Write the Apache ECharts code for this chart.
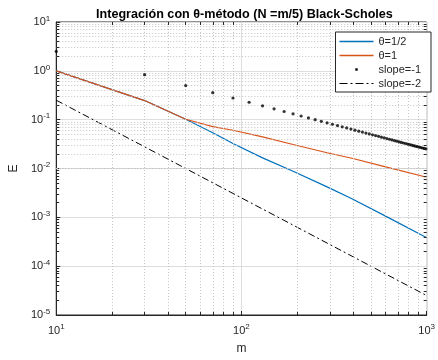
<!DOCTYPE html>
<html>
<head>
<meta charset="utf-8">
<script src="https://cdn.jsdelivr.net/npm/echarts@6/dist/echarts.min.js"></script>
<style>
html,body{margin:0;padding:0;background:#fff;}
#c{width:438px;height:360px;}
</style>
</head>
<body>
<div id="c"></div>
<script>
// ---- data ----
var titleText = 'Integración con θ-método (N =m/5) Black-Scholes';
var seriesNames = ['θ=1/2', 'θ=1', 'slope=-1', 'slope=-2'];
var seriesColors = ['#0072BD', '#D95319', '#000000', '#000000'];

var mLines = [10, 30, 50, 70, 90, 130, 190, 290, 395, 600, 990];
var eHalf  = [1.0, 0.246, 0.102, 0.054, 0.0325, 0.0165, 0.0088, 0.0042, 0.0024, 0.00106, 0.00039];
var eOne   = [1.0, 0.246, 0.102, 0.072, 0.0607, 0.0443, 0.031, 0.021, 0.0162, 0.0108, 0.0067];

var mDots = [10,30,50,70,90,110,130,150,170,190,210,230,250,270,290,310,330,350,370,390,
             410,430,450,470,490,510,530,550,570,590,610,630,650,670,690,710,730,750,770,790,
             810,830,850,870,890,910,930,950,970,990];
var eDots = [2.5,0.8333,0.5,0.3571,0.2778,0.2273,0.1923,0.1667,0.1471,0.1316,0.1190,0.1087,0.1,0.0926,0.0862,0.0806,0.0758,0.0714,0.0676,0.0641,
             0.0610,0.0581,0.0556,0.0532,0.0510,0.0490,0.0472,0.0455,0.0439,0.0424,0.0410,0.0397,0.0385,0.0373,0.0362,0.0352,0.0342,0.0333,0.0325,0.0316,
             0.0309,0.0301,0.0294,0.0287,0.0281,0.0275,0.0269,0.0263,0.0258,0.0253];

var mSlope2 = [10, 990];
var eSlope2 = [0.25, 0.0000255];

var xMinorGrid = [20,30,40,50,60,70,80,90,200,300,400,500,600,700,800,900];
var yMinorGrid = [2e-5,3e-5,4e-5,5e-5,6e-5,7e-5,8e-5,9e-5,
                  2e-4,3e-4,4e-4,5e-4,6e-4,7e-4,8e-4,9e-4,
                  2e-3,3e-3,4e-3,5e-3,6e-3,7e-3,8e-3,9e-3,
                  0.02,0.03,0.04,0.05,0.06,0.07,0.08,0.09,
                  0.2,0.3,0.4,0.5,0.6,0.7,0.8,0.9,
                  2,3,4,5,6,7,8,9];

function pairs(xs, ys){ return xs.map(function(x,i){ return [x, ys[i]]; }); }

var X_MIN = 10, X_MAX = 1000, Y_MIN = 1e-5, Y_MAX = 10;
var axisColor = '#262626';
var font = 'Liberation Sans, Arial, Helvetica, sans-serif';
function powLabel(v){
  var e = Math.round(Math.log(v)/Math.LN10);
  return '{b|10}{s|' + e + '}';
}
var richLab = {
  b: {fontSize: 11, color: axisColor, fontFamily: font},
  s: {fontSize: 8, color: axisColor, fontFamily: font, verticalAlign: 'top', padding: [0,0,7,0]}
};

var minorGridData = xMinorGrid.map(function(v){ return {xAxis: v}; })
  .concat(yMinorGrid.map(function(v){ return {yAxis: v}; }));

// short inner minor tick marks (~3px)
var fx = Math.pow(10, 3/189), fy = Math.pow(10, 3/49.3);
var minorTickData = [];
yMinorGrid.forEach(function(v){
  minorTickData.push([{coord:[X_MIN, v]}, {coord:[X_MIN*fx, v]}]);
  minorTickData.push([{coord:[X_MAX/fx, v]}, {coord:[X_MAX, v]}]);
});
xMinorGrid.forEach(function(v){
  minorTickData.push([{coord:[v, Y_MIN]}, {coord:[v, Y_MIN*fy]}]);
  minorTickData.push([{coord:[v, Y_MAX/fy]}, {coord:[v, Y_MAX]}]);
});

var lineIcon = 'path://M0,0M34,10M0,4.35h34v1.3h-34z';
var dotIcon = 'path://M0,0M34,10M15.8,3.8h2.4v2.4h-2.4z';
var dashDotIcon = 'path://M0,0M34,10M0,4.5h8v1h-8zM11,4.5h2v1h-2zM16,4.5h8v1h-8zM27,4.5h2v1h-2zM32,4.5h2v1h-2z';
var icons = [lineIcon, lineIcon, dotIcon, dashDotIcon];

var chart = echarts.init(document.getElementById('c'), null, {renderer: 'canvas'});
chart.setOption({
  animation: false,
  backgroundColor: '#ffffff',
  title: {
    text: titleText,
    left: 91, top: 3,
    textStyle: {fontSize: 12.6, fontWeight: 'bold', color: '#000', fontFamily: font}
  },
  grid: {left: 55, right: 5, top: 22, bottom: 42, show: true, borderColor: axisColor, borderWidth: 1, backgroundColor: '#fff'},
  legend: {
    z: 20,
    data: seriesNames.map(function(n, i){
      return {name: n, icon: icons[i], itemStyle: {color: seriesColors[i], borderWidth: 0, opacity: 1}};
    }),
    orient: 'vertical',
    right: 7, top: 32,
    itemWidth: 34, itemHeight: 10, itemGap: 3,
    padding: [4, 10, 3, 4],
    borderColor: axisColor, borderWidth: 1,
    backgroundColor: '#fff',
    textStyle: {fontSize: 11, color: axisColor, fontFamily: font},
    align: 'left'
  },
  xAxis: {
    type: 'log', logBase: 10, min: X_MIN, max: X_MAX,
    name: 'm', nameLocation: 'middle', nameGap: 28,
    nameTextStyle: {fontSize: 12, color: axisColor, fontFamily: font},
    axisLine: {show: true, lineStyle: {color: axisColor}},
    axisTick: {show: true, inside: true, length: 4, lineStyle: {color: axisColor}},
    axisLabel: {formatter: powLabel, rich: richLab, margin: 8},
    splitLine: {show: true, lineStyle: {color: '#dedede', width: 1}},
    minorTick: {show: false}
  },
  yAxis: {
    type: 'log', logBase: 10, min: Y_MIN, max: Y_MAX, interval: 1,
    name: 'E', nameLocation: 'middle', nameGap: 32, nameRotate: 90,
    nameTextStyle: {fontSize: 12, color: axisColor, fontFamily: font},
    axisLine: {show: true, lineStyle: {color: axisColor}},
    axisTick: {show: true, inside: true, length: 4, lineStyle: {color: axisColor}},
    axisLabel: {formatter: powLabel, rich: richLab, margin: 6},
    splitLine: {show: true, lineStyle: {color: '#dedede', width: 1}}
  },
  series: [
    {
      name: 'grid-minor', type: 'line', data: [], z: 0, silent: true,
      markLine: {
        silent: true, symbol: ['none','none'], animation: false,
        label: {show: false},
        lineStyle: {color: '#c4c4c4', type: [1,2], width: 1},
        emphasis: {disabled: true},
        data: minorGridData
      }
    },
    {
      name: 'ticks-minor', type: 'line', data: [], z: 6, silent: true,
      markLine: {
        silent: true, symbol: ['none','none'], animation: false,
        label: {show: false},
        lineStyle: {color: axisColor, type: 'solid', width: 1},
        emphasis: {disabled: true},
        data: minorTickData
      }
    },
    {
      name: seriesNames[0], type: 'line', data: pairs(mLines, eHalf), symbol: 'none', z: 3,
      lineStyle: {color: seriesColors[0], width: 1.2}, itemStyle: {color: seriesColors[0]}
    },
    {
      name: seriesNames[1], type: 'line', data: pairs(mLines, eOne), symbol: 'none', z: 4,
      lineStyle: {color: seriesColors[1], width: 1.2}, itemStyle: {color: seriesColors[1]}
    },
    {
      name: seriesNames[2], type: 'scatter', data: pairs(mDots, eDots), symbol: 'circle', symbolSize: 3.2, z: 5,
      itemStyle: {color: seriesColors[2]}
    },
    {
      name: seriesNames[3], type: 'line', data: pairs(mSlope2, eSlope2), symbol: 'none', z: 3,
      lineStyle: {color: seriesColors[3], width: 1, type: [7,3,2,3]}, itemStyle: {color: seriesColors[3]}
    }
  ]
});
</script>
</body>
</html>
